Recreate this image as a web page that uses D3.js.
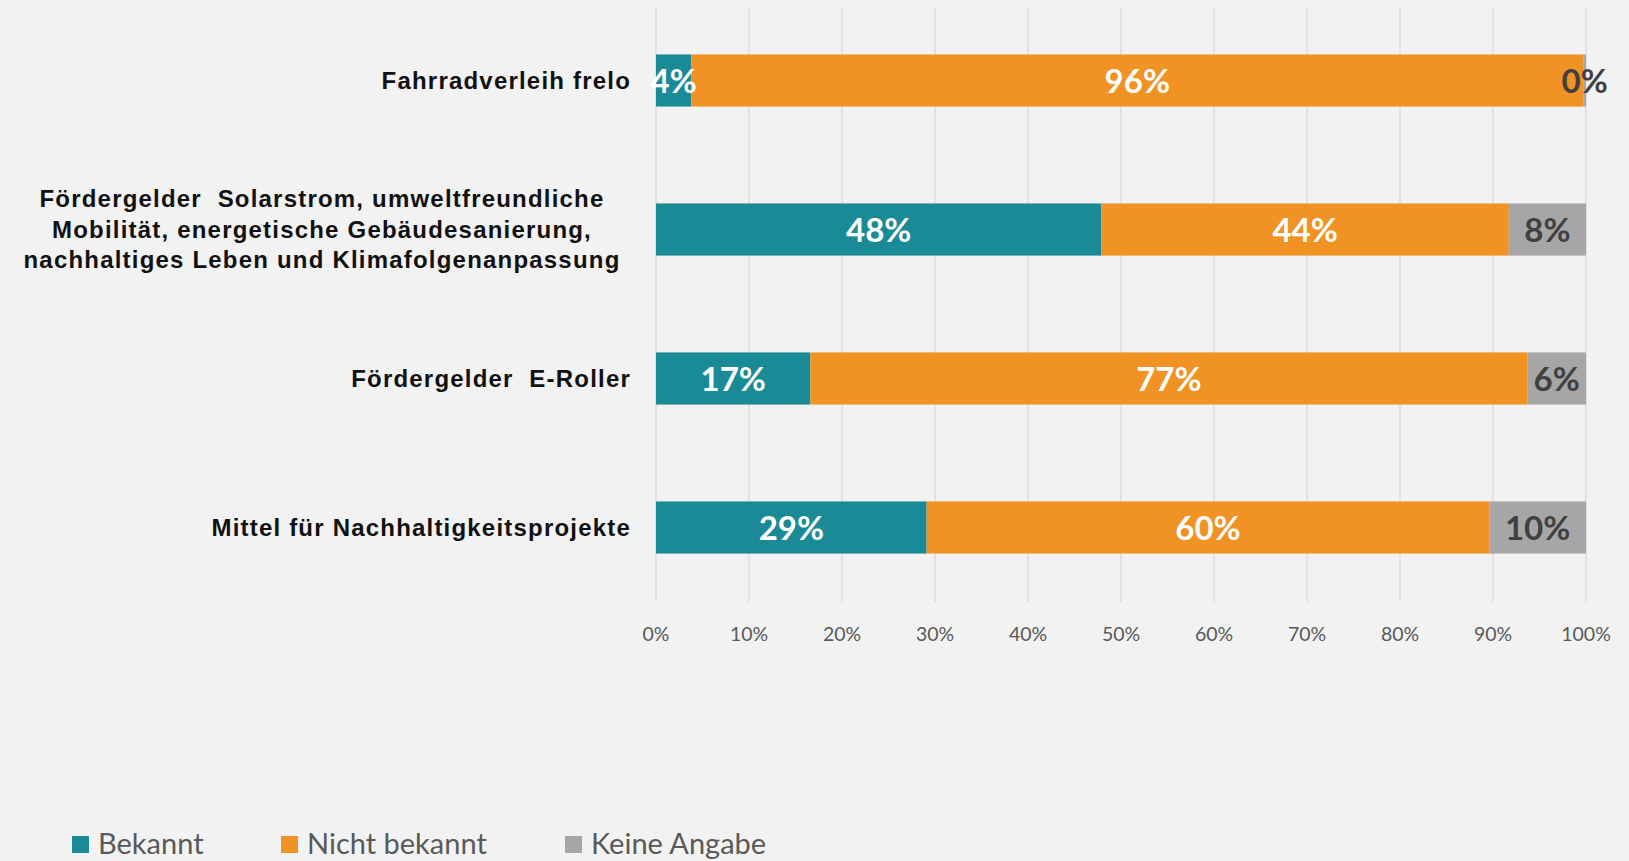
<!DOCTYPE html>
<html>
<head>
<meta charset="utf-8">
<script src="https://d3js.org/d3.v7.min.js"></script>
<style>
  body { margin: 0; background: #f2f2f2; }
  svg { display: block; }
  text { white-space: pre; }
</style>
</head>
<body>
<div id="chart"></div>
<script>
// categories (top to bottom), each label split into lines
var categories = [
  ["Fahrradverleih frelo"],
  ["Fördergelder  Solarstrom, umweltfreundliche", "Mobilität, energetische Gebäudesanierung,", "nachhaltiges Leben und Klimafolgenanpassung"],
  ["Fördergelder  E-Roller"],
  ["Mittel für Nachhaltigkeitsprojekte"]
];
var seriesNames = ["Bekannt", "Nicht bekannt", "Keine Angabe"];
var bekannt      = [3.8, 47.9, 16.6, 29.1];
var nichtBekannt = [95.9, 43.8, 77.1, 60.5];
var keineAngabe  = [0.3, 8.3, 6.3, 10.4];
var valueLabels = [
  ["4%", "48%", "17%", "29%"],
  ["96%", "44%", "77%", "60%"],
  ["0%", "8%", "6%", "10%"]
];
var ticks = [0, 10, 20, 30, 40, 50, 60, 70, 80, 90, 100];

var colors = ["#1a8a96", "#f09224", "#a6a6a6"];
var labelColors = ["#ffffff", "#ffffff", "#404040"];

var width = 1629, height = 861;
var svg = d3.select("#chart").append("svg")
  .attr("width", width).attr("height", height);

var x = d3.scaleLinear().domain([0, 100]).range([656, 1586]);
var y = d3.scaleBand().domain(d3.range(categories.length)).range([6, 602]).paddingInner(0.65).paddingOuter(0.325);

// gridlines
svg.append("g").selectAll("line").data(ticks).join("line")
  .attr("x1", d => x(d)).attr("x2", d => x(d))
  .attr("y1", 8).attr("y2", 602)
  .attr("stroke", "#d9d9d9").attr("stroke-width", 1.3);

// stacking
var rows = categories.map(function (c, i) {
  return { i: i, s0: bekannt[i], s1: nichtBekannt[i], s2: keineAngabe[i] };
});
var stack = d3.stack().keys(["s0", "s1", "s2"]);
var layers = stack(rows);

var g = svg.append("g");
layers.forEach(function (layer, k) {
  g.append("g").attr("fill", colors[k]).selectAll("rect").data(layer).join("rect")
    .attr("x", d => x(d[0]))
    .attr("width", d => x(d[1]) - x(d[0]))
    .attr("y", d => y(d.data.i))
    .attr("height", y.bandwidth());
});

// value labels
layers.forEach(function (layer, k) {
  g.append("g").selectAll("text").data(layer).join("text")
    .attr("x", d => x((d[0] + d[1]) / 2))
    .attr("y", d => y(d.data.i) + y.bandwidth() / 2 + 1)
    .attr("dy", "0.36em")
    .attr("text-anchor", "middle")
    .attr("font-family", "Lato, sans-serif")
    .attr("font-weight", "bold")
    .attr("font-size", 33)
    .attr("fill", labelColors[k])
    .text(d => valueLabels[k][d.data.i]);
});

// category labels
var lineH = 30.5;
categories.forEach(function (lines, i) {
  var cy = y(i) + y.bandwidth() / 2;
  var multi = lines.length > 1;
  var t = svg.append("text")
    .attr("font-family", "'Liberation Sans', Arial, sans-serif")
    .attr("font-weight", "bold")
    .attr("font-size", 24)
    .attr("letter-spacing", 1.2)
    .attr("fill", "#111")
    .attr("text-anchor", multi ? "middle" : "end");
  lines.forEach(function (ln, j) {
    t.append("tspan")
      .attr("x", multi ? 322 : 631)
      .attr("y", cy + (j - (lines.length - 1) / 2) * lineH)
      .attr("dy", "0.35em")
      .text(ln);
  });
});

// x axis labels
svg.append("g").selectAll("text").data(ticks).join("text")
  .attr("x", d => x(d))
  .attr("y", 634)
  .attr("dy", "0.35em")
  .attr("text-anchor", "middle")
  .attr("font-family", "Lato, sans-serif")
  .attr("font-size", 19.5)
  .attr("fill", "#595959")
  .text(d => d + "%");

// legend
var legendX = [72, 281, 565];
var lg = svg.append("g").selectAll("g").data(seriesNames).join("g")
  .attr("transform", (d, i) => "translate(" + legendX[i] + ",844)");
lg.append("rect").attr("x", 0).attr("y", -8).attr("width", 17).attr("height", 17)
  .attr("fill", (d, i) => colors[i]);
lg.append("text").attr("x", 26).attr("y", 0).attr("dy", "0.36em")
  .attr("font-family", "Lato, sans-serif").attr("font-size", 29)
  .attr("fill", "#595959").text(d => d);
</script>
</body>
</html>
